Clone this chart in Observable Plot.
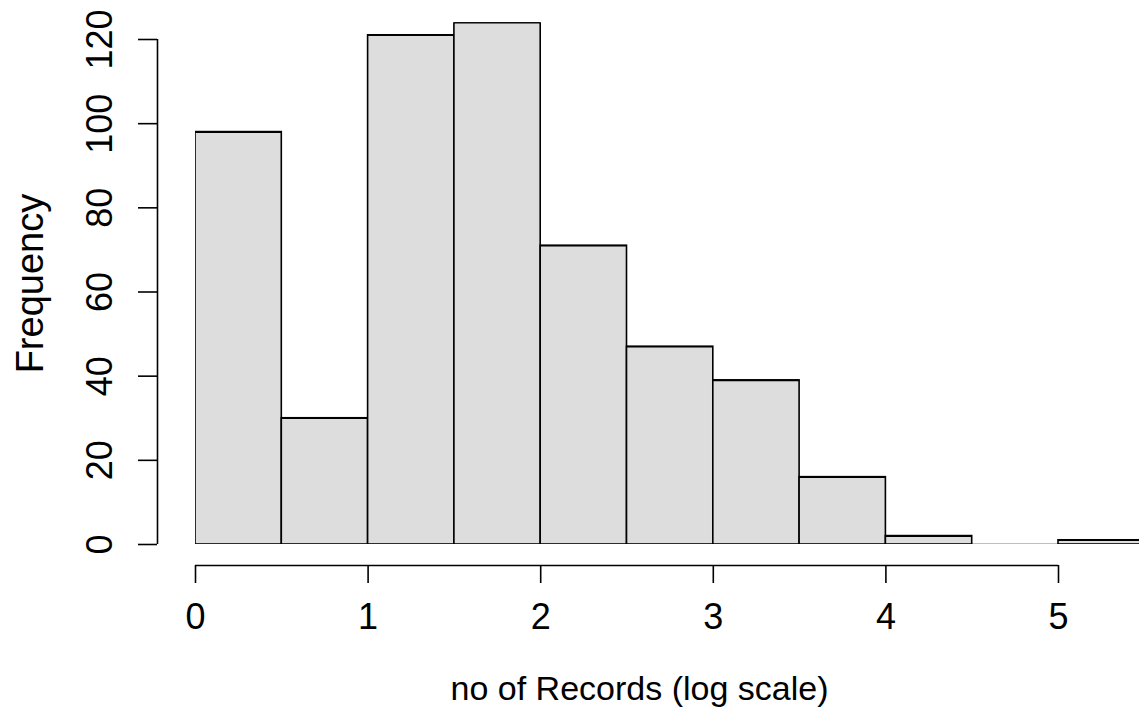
<!DOCTYPE html>
<html><head><meta charset="utf-8">
<script src="https://cdn.jsdelivr.net/npm/d3@7"></script>
<script src="https://cdn.jsdelivr.net/npm/@observablehq/plot@0.6"></script>
<style>body{margin:0;background:#fff;overflow:hidden}</style>
</head><body><div id="chart"></div>
<script>
const binStarts = [0, 0.5, 1, 1.5, 2, 2.5, 3, 3.5, 4, 4.5, 5];
const binEnds   = [0.5, 1, 1.5, 2, 2.5, 3, 3.5, 4, 4.5, 5, 5.5];
const counts    = [98, 30, 121, 124, 71, 47, 39, 16, 2, 0, 1];
const xTicks = [0, 1, 2, 3, 4, 5];
const yTicks = [0, 20, 40, 60, 80, 100, 120];
const xLabel = "no of Records (log scale)";
const yLabel = "Frequency";

const bins = binStarts.map((x1, i) => ({x1, x2: binEnds[i], count: counts[i]}));
const yMax = d3.max(counts);
const pxPerUnit = 505 / 120;

const chart = Plot.plot({
  width: 1139, height: 717,
  marginLeft: 195, marginRight: 0, marginTop: 544 - yMax * pxPerUnit, marginBottom: 173,
  style: {fontFamily: "'Liberation Sans', Arial, sans-serif", fontSize: "36px", background: "#fff", color: "#000"},
  x: {domain: [0, 944 / 172.6]},
  y: {domain: [0, yMax]},
  marks: [
    Plot.rectY(bins, {x1: "x1", x2: "x2", y: "count", fill: "#dddddd", stroke: "#000", strokeWidth: 1.6, clip: true}),
    Plot.ruleY(bins, {x1: "x1", x2: "x2", y: "count", stroke: "#000", strokeWidth: 1.6, clip: true}),
    Plot.ruleY([0], {x1: () => xTicks[0], x2: () => xTicks[xTicks.length - 1], dy: 21, stroke: "#000", strokeWidth: 1.6}),
    Plot.axisX(xTicks, {tickSize: 18, tickPadding: 20, dy: 21, fontSize: 36, strokeWidth: 1.6, label: null, tickFormat: d => String(d)}),
    Plot.ruleX([0], {y1: () => yTicks[0], y2: () => yTicks[yTicks.length - 1], dx: -38, stroke: "#000", strokeWidth: 1.6}),
    Plot.axisY(yTicks, {tickSize: 19, tickPadding: 27, tickRotate: -90, dx: -38, fontSize: 36, strokeWidth: 1.6, label: null, tickFormat: d => String(d)}),
    Plot.text([xLabel], {frameAnchor: "bottom", textAnchor: "middle", dx: -28, dy: 145, fontSize: 34, lineAnchor: "middle"}),
    Plot.text([yLabel], {frameAnchor: "left", textAnchor: "middle", rotate: -90, dx: -165, dy: 0, fontSize: 38, lineAnchor: "middle"})
  ]
});
document.getElementById("chart").appendChild(chart);
</script>
</body></html>
